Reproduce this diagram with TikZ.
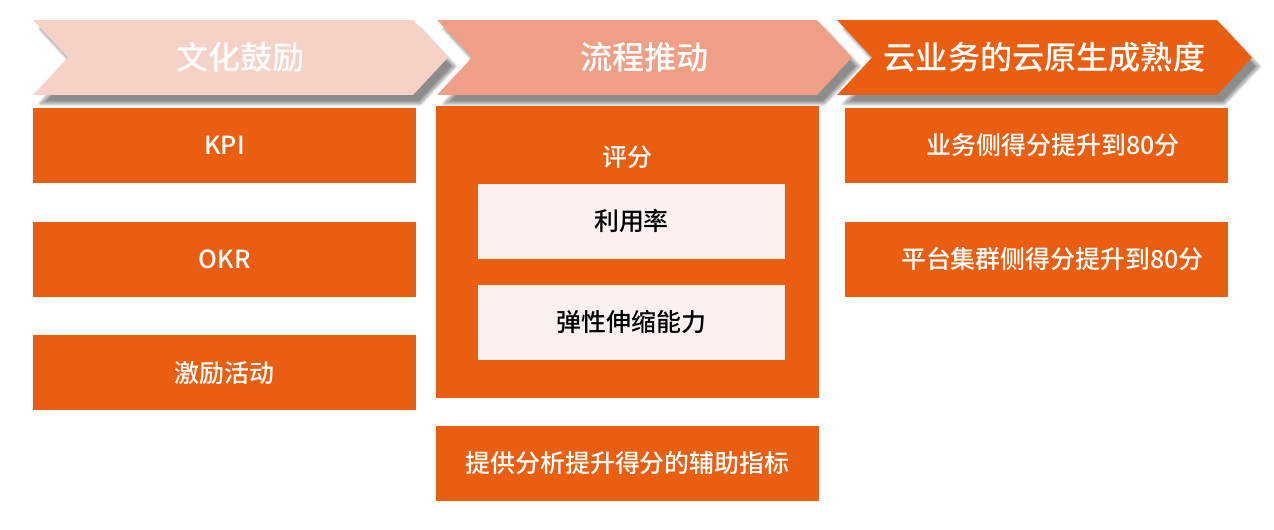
\documentclass[tikz,border=0pt]{standalone}
\usepackage{fontspec}
\newfontfamily\cjk{Noto Sans CJK SC Medium}
\usetikzlibrary{positioning,shapes.symbols,shadows.blur}
\definecolor{paleRose}{RGB}{246,209,198}
\definecolor{midSalmon}{RGB}{240,159,135}
\definecolor{deepOrange}{RGB}{233,94,17}
\definecolor{paperWhite}{RGB}{251,242,240}
\tikzset{
  headArrow/.style={signal, signal to=east, signal from=west, signal pointer angle=94,
    minimum width=8.3cm, minimum height=1.5cm, inner sep=0pt, text=white,
    font=\cjk\fontsize{18.3}{21}\selectfont,
    blur shadow={shadow xshift=4pt, shadow yshift=-5pt, shadow blur steps=10, shadow opacity=45}},
  orangeBox/.style={fill=deepOrange, minimum width=7.66cm, minimum height=1.5cm, inner sep=0pt,
    text=white, font=\cjk\fontsize{14.2}{17}\selectfont},
  paperBox/.style={fill=paperWhite, minimum width=6.14cm, minimum height=1.5cm, inner sep=0pt,
    text=black, font=\cjk\fontsize{14.2}{17}\selectfont},
  boxText/.style={text=white, font=\cjk\fontsize{14.2}{17}\selectfont}
}
\begin{document}
\begin{tikzpicture}[x=0.02cm, y=-0.02cm, node distance=0.76cm]
\useasboundingbox (0,0) rectangle (1274,530);

% column 1
\node[orangeBox] (boxKPI) at (224.5,145.5) {KPI};
\node[orangeBox, below=of boxKPI] (boxOKR) {OKR};
\node[orangeBox, below=of boxOKR] (boxIncentive) {激励活动};

% column 2
\node[orangeBox, minimum height=5.84cm] (boxScore) at (627.5,252) {};
\node[boxText] (scoreTitle) at (627.5,157) {评分};
\node[paperBox] (boxUsage) at (631.5,221.5) {利用率};
\node[paperBox, below=0.5cm of boxUsage] (boxElastic) {弹性伸缩能力};
\node[orangeBox, below=0.54cm of boxScore] (boxAssist) {提供分析提升得分的辅助指标};

% column 3
\node[orangeBox, label={[boxText, xshift=0.33cm]center:业务侧得分提升到80分}] (boxBiz) at (1036.5,145.5) {};
\node[orangeBox, below=of boxBiz, label={[boxText, xshift=0.32cm]center:平台集群侧得分提升到80分}] (boxPlatform) {};

% headers
\node[headArrow, fill=paleRose] (headCulture) at (240.5,57.5) {文化鼓励};
\node[headArrow, fill=midSalmon] (headProcess) at (644.5,57.5) {流程推动};
\node[headArrow, fill=deepOrange] (headMaturity) at (1044.5,57.5) {云业务的云原生成熟度};

\end{tikzpicture}
\end{document}
